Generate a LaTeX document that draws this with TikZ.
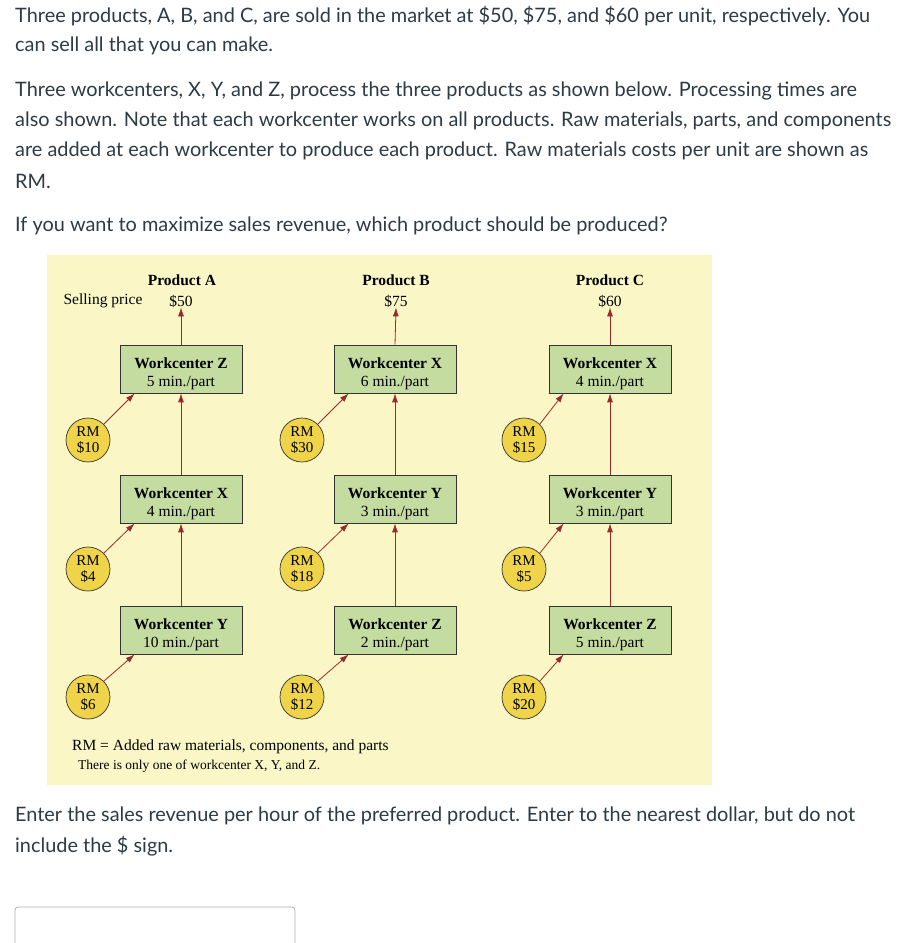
\documentclass[tikz,border=0pt]{standalone}
\usepackage{fontspec}
\setmainfont{Lato}
\newfontfamily\diag{Liberation Serif}
\usetikzlibrary{arrows.meta}
\definecolor{bgy}{HTML}{FAF6C6}
\definecolor{boxg}{HTML}{C5DCA0}
\definecolor{rmy}{HTML}{EFD44A}
\definecolor{arr}{HTML}{9A2A2A}
\definecolor{txt}{HTML}{2D3B45}
\newcommand\wcup{\rule{0pt}{21pt}}
\tikzset{
 para/.style={anchor=west,inner sep=0,font=\fontsize{19.9}{22}\selectfont,text=txt},
 wc/.style={draw=black!80,fill=boxg,minimum width=122pt,minimum height=48pt,inner sep=0,align=center,font=\diag\fontsize{15.5}{18}\selectfont,line width=0.7pt},
 rm/.style={circle,draw=black!80,fill=rmy,minimum size=44pt,inner sep=0,align=center,font=\diag\fontsize{15}{16}\selectfont,line width=0.7pt},
 lab/.style={inner sep=0,font=\diag\fontsize{15.5}{18}\selectfont},
 ar/.style={draw=arr,line width=0.8pt,-{Latex[length=9pt,width=6pt]}}
}
\begin{document}
\begin{tikzpicture}[x=1pt,y=-1pt]
\useasboundingbox[fill=white] (0,0) rectangle (920,943);
\node[para] (t1) at (15,16) {Three products, A, B, and C, are sold in the market at \$50, \$75, and \$60 per unit, respectively. You};
\node[para] (t2) at (15,46) {can sell all that you can make.};
\node[para] (t3) at (15,91) {Three workcenters, X, Y, and Z, process the three products as shown below. Processing times are};
\node[para] (t4) at (15,121) {also shown. Note that each workcenter works on all products. Raw materials, parts, and components};
\node[para] (t5) at (15,151) {are added at each workcenter to produce each product. Raw materials costs per unit are shown as};
\node[para] (t6) at (15,181) {RM.};
\node[para] (t7) at (15,226) {If you want to maximize sales revenue, which product should be produced?};
\node[para] (t8) at (15,816) {Enter the sales revenue per hour of the preferred product. Enter to the nearest dollar, but do not};
\node[para] (t9) at (15,846) {include the \$ sign.};
\draw[draw=black!30,rounded corners=3pt,line width=0.8pt] (15,907) rectangle (295,950);
\fill[bgy] (47,255) rectangle (712,785);
% titles
\node[lab,font=\diag\bfseries\fontsize{15.5}{18}\selectfont] (pa) at (182,280) {Product A};
\node[lab,font=\diag\bfseries\fontsize{15.5}{18}\selectfont] (pb) at (396,280) {Product B};
\node[lab,font=\diag\bfseries\fontsize{15.5}{18}\selectfont] (pc) at (610,280) {Product C};
\node[lab] (sp) at (103,301) {Selling price};
\node[lab] (sa) at (181,301) {\$50};
\node[lab] (sb) at (396,301) {\$75};
\node[lab] (sc) at (610,301) {\$60};
% boxes
\node[wc] (a1) at (181,369) {\wcup\textbf{Workcenter Z}\\5 min./part};
\node[wc] (a2) at (181,499) {\wcup\textbf{Workcenter X}\\4 min./part};
\node[wc] (a3) at (181,630) {\wcup\textbf{Workcenter Y}\\10 min./part};
\node[wc] (b1) at (395,369) {\wcup\textbf{Workcenter X}\\6 min./part};
\node[wc] (b2) at (395,499) {\wcup\textbf{Workcenter Y}\\3 min./part};
\node[wc] (b3) at (395,630) {\wcup\textbf{Workcenter Z}\\2 min./part};
\node[wc] (c1) at (610,369) {\wcup\textbf{Workcenter X}\\4 min./part};
\node[wc] (c2) at (610,499) {\wcup\textbf{Workcenter Y}\\3 min./part};
\node[wc] (c3) at (610,630) {\wcup\textbf{Workcenter Z}\\5 min./part};
% RM
\node[rm] (ra1) at (88,440) {RM\\\$10};
\node[rm] (ra2) at (88,569) {RM\\\$4};
\node[rm] (ra3) at (88,697) {RM\\\$6};
\node[rm] (rb1) at (302,440) {RM\\\$30};
\node[rm] (rb2) at (302,569) {RM\\\$18};
\node[rm] (rb3) at (302,697) {RM\\\$12};
\node[rm] (rc1) at (524,440) {RM\\\$15};
\node[rm] (rc2) at (524,569) {RM\\\$5};
\node[rm] (rc3) at (524,697) {RM\\\$20};
% arrows
\foreach \p/\s in {a/sa,b/sb,c/sc}{
 \draw[ar] (\p1.north) -- (\s.south);
 \draw[ar] (\p2.north) -- (\p1.south);
 \draw[ar] (\p3.north) -- (\p2.south);
 \draw[ar] (r\p1.45) -- ([xshift=15pt]\p1.south west);
 \draw[ar] (r\p2.45) -- ([xshift=15pt]\p2.south west);
 \draw[ar] (r\p3.45) -- ([xshift=15pt]\p3.south west);
}
\node[lab,anchor=west] (n1) at (72,747) {RM = Added raw materials, components, and parts};
\node[lab,anchor=west,font=\diag\fontsize{13.5}{15}\selectfont] (n2) at (78,766) {There is only one of workcenter X, Y, and Z.};
\end{tikzpicture}
\end{document}
